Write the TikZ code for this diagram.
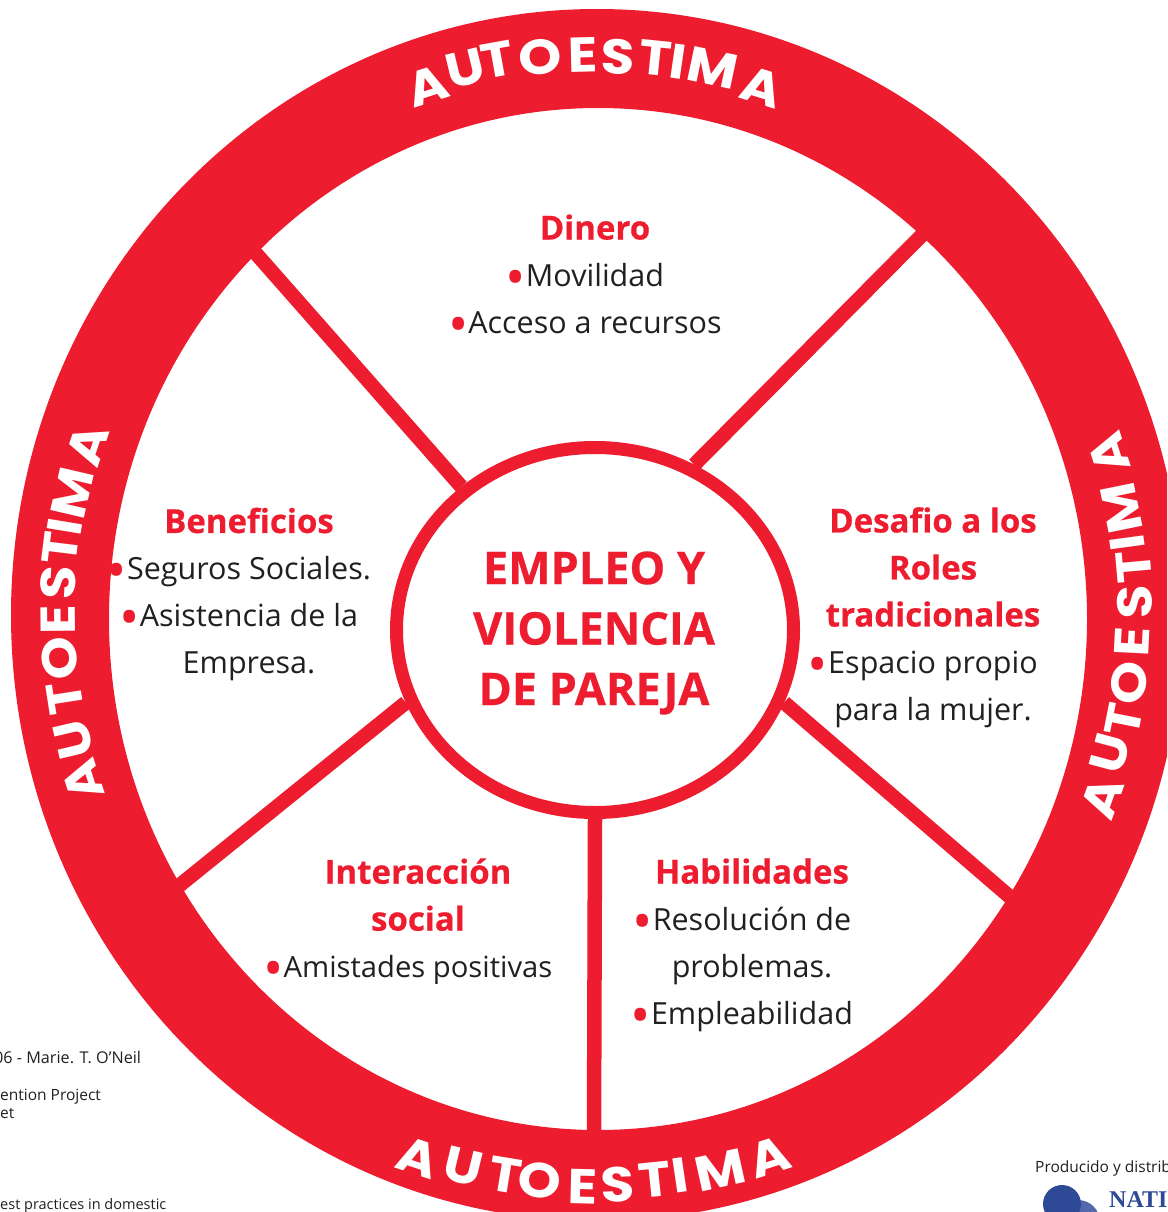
\documentclass[tikz,border=0pt]{standalone}
\usepackage{fontspec}
\setmainfont{Open Sans}
\newfontfamily\logofont{Liberation Serif}
\newfontfamily\heavyfont[BoldFeatures={FakeBold=0.6}]{Open Sans}
\newfontfamily\ringfont{Poppins}
\usetikzlibrary{positioning, shapes.geometric}

\definecolor{wheelred}{HTML}{ED1C2E}
\definecolor{bodyink}{HTML}{231F20}
\definecolor{logoblue}{HTML}{2E4A96}
\definecolor{logolight}{HTML}{5468AE}

\newcommand{\bul}{\leavevmode\llap{\textcolor{wheelred}{\raisebox{-10pt}{\fontsize{54}{47}\selectfont\textbullet}}}}
\newcommand{\heading}[1]{\textcolor{wheelred}{{\fontsize{33}{47}\selectfont\heavyfont\bfseries #1}}}
\newcommand{\wide}[1]{\scalebox{1.12}[1]{#1}}

\tikzset{
  sector/.style={align=center, inner sep=0pt, text=bodyink, font=\fontsize{30.5}{47}\selectfont},
  spoke/.style={draw=wheelred, line width=14.5pt},
  ringletter/.style={text=white, inner sep=0pt, font=\fontsize{49}{49}\selectfont\ringfont\bfseries},
  smallprint/.style={anchor=base west, inner sep=0pt, text=bodyink, font=\fontsize{15.5}{18}\selectfont}
}

\begin{document}
\begin{tikzpicture}[x=1pt, y=-1pt]

    \clip (0,0) rectangle (1167,1212);

    % Outer ring
    \fill[wheelred, even odd rule] (597,615) ellipse [x radius=586, y radius=606]
        (598,619) ellipse [x radius=489, y radius=511];

    % Centre of the wheel
    \node[draw=wheelred, line width=13pt, fill=white, ellipse, minimum width=397pt, minimum height=365pt, inner sep=0pt] (hub) at (595,630) {};
    \node[align=center, inner sep=0pt, text=wheelred, font=\fontsize{45}{60.5}\selectfont\heavyfont\bfseries] (title) at (594,633)
        {EMPLEO Y\\VIOLENCIA\\DE PAREJA};

    % Free ends of the spokes on the ring
    \coordinate (rimNE) at (922,235);
    \coordinate (rimNW) at (252,249);
    \coordinate (rimSW) at (175,889);
    \coordinate (rimSE) at (1010,897);
    \coordinate (rimS) at (594,1135);

    % Spokes
    \draw[spoke] (rimNE) -- (hub.59);
    \draw[spoke] (rimNW) -- (hub.133);
    \draw[spoke] (rimSW) -- (hub.201);
    \draw[spoke] (rimSE) -- (hub.-21);
    \draw[spoke] (rimS) -- (hub.south);

    % Text of the five sectors
    \node[sector] (dinero) at (595,279) {\heading{Dinero}\\\bul Movilidad\\\bul Acceso a recursos};
    \node[sector] (beneficios) at (249,594.5) {\heading{Beneficios}\\\bul Seguros Sociales.\\\bul Asistencia de la\\Empresa.};
    \node[sector] (desafio) at (933,617.5) {\heading{Desafio a los}\\\heading{Roles}\\\heading{tradicionales}\\\bul Espacio propio\\para la mujer.};
    \node[sector] (interaccion) at (418,923) {\heading{Interacción}\\\heading{social}\\\bul {\fontsize{29.2}{47}\selectfont Amistades positivas}};
    \node[sector] (habilidades) at (752,946.5) {\heading{Habilidades}\\\bul Resolución de\\problemas.\\\bul Empleabilidad};

    % Letters on the ring, top and left read with their heads outwards
    \foreach \ch/\px/\py [count=\i] in {A/428/86, U/465/68, T/497/60, O/540/57, E/583/55, S/618/57, T/655/58, I/678/62, M/713/68, A/762/87} {
        \pgfmathsetmacro{\turn}{atan2(615-\py,\px-597)-90}
        \node[ringletter, rotate=\turn] (top\i) at (\px,\py) {\wide{\ch}};
    }
    \foreach \ch/\px/\py [count=\i] in {A/83/780, U/73/740, T/65/698, O/60/658, E/58/620, S/58/583, T/60/548, I/65/527, M/72/493, A/88/445} {
        \pgfmathsetmacro{\turn}{atan2(615-\py,\px-597)-90}
        \node[ringletter, rotate=\turn] (left\i) at (\px,\py) {\wide{\ch}};
    }

    % Bottom and right read with their heads inwards
    \foreach \ch/\px/\py [count=\i] in {A/418/1157, U/463/1167, T/505/1175, O/540/1180, E/583/1187, S/618/1185, T/655/1180, I/680/1175, M/720/1170, A/770/1157} {
        \pgfmathsetmacro{\turn}{atan2(615-\py,\px-597)+90}
        \node[ringletter, rotate=\turn] (bottom\i) at (\px,\py) {\wide{\ch}};
    }
    \foreach \ch/\px/\py [count=\i] in {A/1102/798, U/1110/753, T/1124/720, O/1129/683, E/1132/642, S/1135/602, T/1134/567, I/1127/543, M/1122/508, A/1109/453} {
        \pgfmathsetmacro{\turn}{atan2(615-\py,\px-597)+90}
        \node[ringletter, rotate=\turn] (right\i) at (\px,\py) {\wide{\ch}};
    }

    % Small print cut off by the page
    \node[smallprint, font=\fontsize{16.2}{18}\selectfont] (credit) at (-6,1063) {06 - Marie. T. O'Neil};
    \node[smallprint] (project) at (0,1100) {ention Project};
    \node[smallprint] (net) at (0,1118) {et};
    \node[smallprint, font=\fontsize{14.5}{18}\selectfont] (practices) at (0,1209) {est practices in domestic};
    \node[smallprint] (producido) at (1035,1172) {Producido y distrib};

    % Logo
    \fill[logolight] (1078,1222) circle (22);
    \fill[logoblue] (1062,1204) circle (19);
    \node[anchor=base west, inner sep=0pt, text=logoblue, font=\fontsize{24}{24}\selectfont\logofont\bfseries] (logo) at (1109,1207) {NATI};

\end{tikzpicture}
\end{document}
